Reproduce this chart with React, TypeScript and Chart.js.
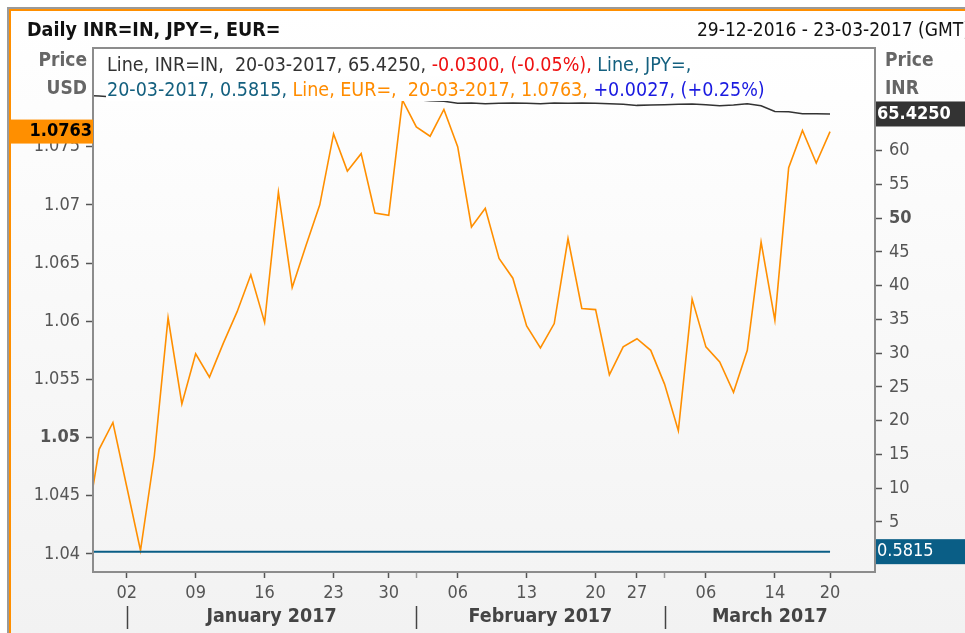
import React, { useEffect, useRef } from 'react';
import { Chart, registerables } from 'chart.js';

Chart.register(...registerables);

const FONT = "'DejaVu Sans Condensed', 'DejaVu Sans', sans-serif";

// trading days (x categories)
const dates = [
  '2016-12-28', '2016-12-29', '2016-12-30',
  '2017-01-02', '2017-01-03', '2017-01-04', '2017-01-05', '2017-01-06',
  '2017-01-09', '2017-01-10', '2017-01-11', '2017-01-12', '2017-01-13',
  '2017-01-16', '2017-01-17', '2017-01-18', '2017-01-19', '2017-01-20',
  '2017-01-23', '2017-01-24', '2017-01-25', '2017-01-27',
  '2017-01-30', '2017-01-31', '2017-02-01', '2017-02-02', '2017-02-03',
  '2017-02-06', '2017-02-07', '2017-02-08', '2017-02-09', '2017-02-10',
  '2017-02-13', '2017-02-14', '2017-02-15', '2017-02-16', '2017-02-17',
  '2017-02-20', '2017-02-21', '2017-02-22',
  '2017-02-27', '2017-02-28', '2017-03-01', '2017-03-02', '2017-03-03',
  '2017-03-06', '2017-03-07', '2017-03-08', '2017-03-09', '2017-03-10',
  '2017-03-14', '2017-03-15', '2017-03-16', '2017-03-17',
  '2017-03-20',
];

// EUR= (left axis, USD)
const eurValues = [
  1.0417, 1.0490, 1.0513,
  1.0458, 1.0403, 1.0484, 1.0603, 1.0529,
  1.0572, 1.0552, 1.0581, 1.0608, 1.0640,
  1.0599, 1.0711, 1.0629, 1.0665, 1.0700,
  1.0761, 1.0729, 1.0744, 1.0693,
  1.0691, 1.0790, 1.0767, 1.0759, 1.0782,
  1.0750, 1.0681, 1.0697, 1.0654, 1.0637,
  1.0596, 1.0577, 1.0598, 1.0671, 1.0611,
  1.0610, 1.0554, 1.0578,
  1.0585, 1.0575, 1.0546, 1.0506, 1.0619,
  1.0578, 1.0565, 1.0539, 1.0575, 1.0668,
  1.0601, 1.0732, 1.0764, 1.0736,
  1.0763,
];

// INR=IN (right axis)
const inrValues = [
  68.15, 68.10, 67.95,
  68.20, 68.30, 68.25, 68.05, 67.95,
  68.10, 68.15, 68.20, 68.05, 68.10,
  68.15, 68.30, 68.25, 68.20, 68.10,
  68.15, 68.20, 68.05, 67.90,
  67.95, 67.80, 67.55, 67.40, 67.30,
  67.00, 67.05, 66.95, 67.00, 67.05,
  67.00, 66.95, 67.05, 67.00, 67.05,
  67.00, 66.95, 66.85,
  66.70, 66.75, 66.80, 66.85, 66.90,
  66.80, 66.65, 66.75, 66.95, 66.65,
  65.80, 65.75, 65.45, 65.45,
  65.425,
];

// JPY= (right axis)
const jpyValues = [
  0.5815, 0.5815, 0.5815,
  0.5815, 0.5815, 0.5815, 0.5815, 0.5815,
  0.5815, 0.5815, 0.5815, 0.5815, 0.5815,
  0.5815, 0.5815, 0.5815, 0.5815, 0.5815,
  0.5815, 0.5815, 0.5815, 0.5815,
  0.5815, 0.5815, 0.5815, 0.5815, 0.5815,
  0.5815, 0.5815, 0.5815, 0.5815, 0.5815,
  0.5815, 0.5815, 0.5815, 0.5815, 0.5815,
  0.5815, 0.5815, 0.5815,
  0.5815, 0.5815, 0.5815, 0.5815, 0.5815,
  0.5815, 0.5815, 0.5815, 0.5815, 0.5815,
  0.5815, 0.5815, 0.5815, 0.5815,
  0.5815,
];

const usdTicks = [1.04, 1.045, 1.05, 1.055, 1.06, 1.065, 1.07, 1.075];
const usdTickLabels = ['1.04', '1.045', '1.05', '1.055', '1.06', '1.065', '1.07', '1.075'];
const inrTicks = [0, 5, 10, 15, 20, 25, 30, 35, 40, 45, 50, 55, 60, 65];

const dayTickDates = [
  '2017-01-02', '2017-01-09', '2017-01-16', '2017-01-23', '2017-01-30',
  '2017-02-06', '2017-02-13', '2017-02-20', '2017-02-27',
  '2017-03-06', '2017-03-14', '2017-03-20',
];
const dayTickLabels = ['02', '09', '16', '23', '30', '06', '13', '20', '27', '06', '14', '20'];
const monthStartDates = ['2017-01-02', '2017-02-01', '2017-03-01'];
const monthLabels = ['January 2017', 'February 2017', 'March 2017'];

const titleText = 'Daily INR=IN, JPY=, EUR=';
const rangeText = '29-12-2016 - 23-03-2017 (GMT)';

const legendLine1: [string, string][] = [
  ['Line, INR=IN,  20-03-2017, 65.4250, ', '#333333'],
  ['-0.0300, (-0.05%), ', '#ee1111'],
  ['Line, JPY=,', '#14607f'],
];
const legendLine2: [string, string][] = [
  ['20-03-2017, 0.5815, ', '#14607f'],
  ['Line, EUR=,  20-03-2017, 1.0763, ', '#ff8c00'],
  ['+0.0027, (+0.25%)', '#1a1ae0'],
];

const ORANGE = '#ff8f00';
const TEAL = '#0a5e86';
const DARK = '#333333';

export default function App() {
  const ref = useRef<HTMLCanvasElement | null>(null);

  useEffect(() => {
    const canvas = ref.current;
    if (!canvas) return;
    const idx = (d: string) => dates.indexOf(d);
    const jan2 = idx('2017-01-02');
    const xMin = jan2 - 2.444;
    const xMax = jan2 + 54.26;

    const dayTickIdx = dayTickDates.map(idx);
    const minorIdx = [idx('2017-02-01'), idx('2017-03-01')];

    const decor = {
      id: 'decor',
      beforeDraw(chart: any) {
        const c = chart.ctx;
        const W = chart.width, H = chart.height;
        const ca = chart.chartArea;
        c.save();
        c.fillStyle = '#ffffff';
        c.fillRect(0, 0, W, H);
        const g = c.createLinearGradient(0, 11, 0, H);
        g.addColorStop(0, '#ffffff');
        g.addColorStop(1, '#f2f2f2');
        c.fillStyle = g;
        c.fillRect(9, 9, W - 9, H - 9);
        const g2 = c.createLinearGradient(0, ca.top, 0, ca.bottom);
        g2.addColorStop(0, '#ffffff');
        g2.addColorStop(1, '#f4f4f4');
        c.fillStyle = g2;
        c.fillRect(ca.left, ca.top, ca.right - ca.left, ca.bottom - ca.top);
        // frame
        c.fillStyle = '#9a9a9a';
        c.fillRect(7, 7, W - 7, 2);
        c.fillRect(7, 7, 2, H - 7);
        c.fillStyle = ORANGE;
        c.fillRect(9, 9, W - 9, 2);
        c.fillRect(9, 9, 2, H - 9);
        c.restore();
      },
      afterDatasetsDraw(chart: any) {
        const c = chart.ctx;
        c.save();
        c.font = `19.5px ${FONT}`;
        c.textBaseline = 'middle';
        const drawLine = (segs: [string, string][], x0: number, yc: number) => {
          let x = x0;
          for (const [t, col] of segs) {
            const w = c.measureText(t).width;
            c.fillStyle = '#ffffff';
            c.fillRect(x - 1, yc - 11, w + 2, 21);
            c.fillStyle = col;
            c.fillText(t, x, yc);
            x += w;
          }
        };
        c.textAlign = 'left';
        drawLine(legendLine1, 107, 66);
        drawLine(legendLine2, 107, 91);
        c.restore();
      },
      afterDraw(chart: any) {
        const c = chart.ctx;
        const ca = chart.chartArea;
        const xs = chart.scales.x;
        const yl = chart.scales.y;
        const yr = chart.scales.y1;
        c.save();
        // plot border
        c.strokeStyle = '#8c8c8c';
        c.lineWidth = 2;
        c.strokeRect(ca.left, ca.top, ca.right - ca.left, ca.bottom - ca.top);

        // title + range
        c.textBaseline = 'middle';
        c.textAlign = 'left';
        c.fillStyle = '#111';
        c.font = `bold 19.5px ${FONT}`;
        c.fillText(titleText, 27, 31);
        c.font = `19px ${FONT}`;
        c.fillText(rangeText, 697, 31);

        // axis captions
        c.fillStyle = '#666';
        c.font = `bold 19px ${FONT}`;
        c.textAlign = 'right';
        c.fillText('Price', 87, 61);
        c.fillText('USD', 87, 89);
        c.textAlign = 'left';
        c.fillText('Price', 885, 61);
        c.fillText('INR', 885, 89);

        // month separators + labels
        const sepX = monthStartDates.map((d) => xs.getPixelForValue(idx(d)));
        c.strokeStyle = '#444';
        c.lineWidth = 1.5;
        sepX.forEach((x) => {
          c.beginPath();
          c.moveTo(Math.round(x) + 0.5, 606);
          c.lineTo(Math.round(x) + 0.5, 629);
          c.stroke();
        });
        c.fillStyle = '#444';
        c.font = `bold 19.5px ${FONT}`;
        c.textAlign = 'center';
        monthLabels.forEach((m, i) => {
          const a = sepX[i];
          const b = i + 1 < sepX.length ? sepX[i + 1] : ca.right;
          c.fillText(m, (a + b) / 2, 617);
        });

        // last value labels
        const lastEur = eurValues[eurValues.length - 1];
        const lastInr = inrValues[inrValues.length - 1];
        const lastJpy = jpyValues[jpyValues.length - 1];
        const yE = yl.getPixelForValue(lastEur);
        c.fillStyle = ORANGE;
        c.fillRect(10, yE - 12, ca.left - 10, 24);
        c.fillStyle = '#000';
        c.font = `bold 18px ${FONT}`;
        c.textAlign = 'right';
        c.fillText(lastEur.toFixed(4), ca.left - 1, yE);

        const yI = yr.getPixelForValue(lastInr);
        c.fillStyle = DARK;
        c.fillRect(ca.right + 1, yI - 12.5, chart.width - ca.right, 25);
        c.fillStyle = '#fff';
        c.textAlign = 'left';
        c.fillText(lastInr.toFixed(4), ca.right + 2, yI);

        const yJ = yr.getPixelForValue(lastJpy);
        c.fillStyle = TEAL;
        c.fillRect(ca.right + 1, yJ - 12.5, chart.width - ca.right, 25);
        c.fillStyle = '#fff';
        c.font = `18px ${FONT}`;
        c.fillText(lastJpy.toFixed(4), ca.right + 2, yJ);
        c.restore();
      },
    };

    const chart = new Chart(canvas, {
      type: 'line',
      data: {
        datasets: [
          {
            label: 'INR=IN',
            data: inrValues.map((v, i) => ({ x: i, y: v })),
            yAxisID: 'y1',
            borderColor: DARK,
            borderWidth: 1.5,
            pointRadius: 0,
            tension: 0,
          },
          {
            label: 'JPY=',
            data: jpyValues.map((v, i) => ({ x: i, y: v })),
            yAxisID: 'y1',
            borderColor: TEAL,
            borderWidth: 2,
            pointRadius: 0,
            tension: 0,
          },
          {
            label: 'EUR=',
            data: eurValues.map((v, i) => ({ x: i, y: v })),
            yAxisID: 'y',
            borderColor: ORANGE,
            borderWidth: 1.6,
            pointRadius: 0,
            tension: 0,
          },
        ],
      },
      options: {
        responsive: false,
        animation: false,
        devicePixelRatio: 1,
        layout: { padding: { top: 48, left: 0, right: 0, bottom: 0 } },
        plugins: { legend: { display: false }, tooltip: { enabled: false }, title: { display: false } },
        scales: {
          x: {
            type: 'linear',
            min: xMin,
            max: xMax,
            afterFit: (s: any) => { s.height = 61; },
            afterBuildTicks: (s: any) => {
              s.ticks = [...dayTickIdx, ...minorIdx].sort((a, b) => a - b).map((v) => ({ value: v }));
            },
            border: { display: false },
            grid: {
              drawOnChartArea: false,
              drawTicks: true,
              tickLength: 6,
              tickColor: (ctx: any) => (ctx.tick && minorIdx.includes(ctx.tick.value) ? '#999' : '#555'),
              tickWidth: 1.5,
            },
            ticks: {
              autoSkip: false,
              maxRotation: 0,
              minRotation: 0,
              padding: 5,
              color: '#555',
              font: { family: FONT, size: 18 },
              callback: (v: any) => {
                const k = dayTickIdx.indexOf(v);
                return k >= 0 ? dayTickLabels[k] : '';
              },
            },
          },
          y: {
            type: 'linear',
            position: 'left',
            min: 1.038453,
            max: 1.08348,
            afterFit: (s: any) => { s.width = 93; },
            afterBuildTicks: (s: any) => { s.ticks = usdTicks.map((v) => ({ value: v })); },
            border: { display: false },
            grid: { drawOnChartArea: false, drawTicks: true, tickLength: 7, tickColor: '#555', tickWidth: 1.5 },
            ticks: {
              padding: 6,
              color: '#555',
              font: (ctx: any) => ({ family: FONT, size: 18, weight: ctx.tick && ctx.tick.value === 1.05 ? 'bold' : 'normal' }),
              callback: (v: any) => {
                const k = usdTicks.indexOf(v);
                return k >= 0 ? usdTickLabels[k] : '';
              },
            },
          },
          y1: {
            type: 'linear',
            position: 'right',
            min: -2.43,
            max: 75.2,
            afterFit: (s: any) => { s.width = 90; },
            afterBuildTicks: (s: any) => { s.ticks = inrTicks.map((v) => ({ value: v })); },
            border: { display: false },
            grid: { drawOnChartArea: false, drawTicks: true, tickLength: 7, tickColor: '#555', tickWidth: 1.5 },
            ticks: {
              padding: 7,
              color: '#555',
              font: (ctx: any) => ({ family: FONT, size: 18, weight: ctx.tick && ctx.tick.value === 50 ? 'bold' : 'normal' }),
              callback: (v: any) => String(v),
            },
          },
        },
      },
      plugins: [decor],
    } as any);

    return () => chart.destroy();
  }, []);

  return (
    <div style={{ position: 'absolute', left: 0, top: 0, width: 965, height: 633 }}>
      <canvas ref={ref} width={965} height={633} style={{ width: 965, height: 633, display: 'block' }} />
    </div>
  );
}
